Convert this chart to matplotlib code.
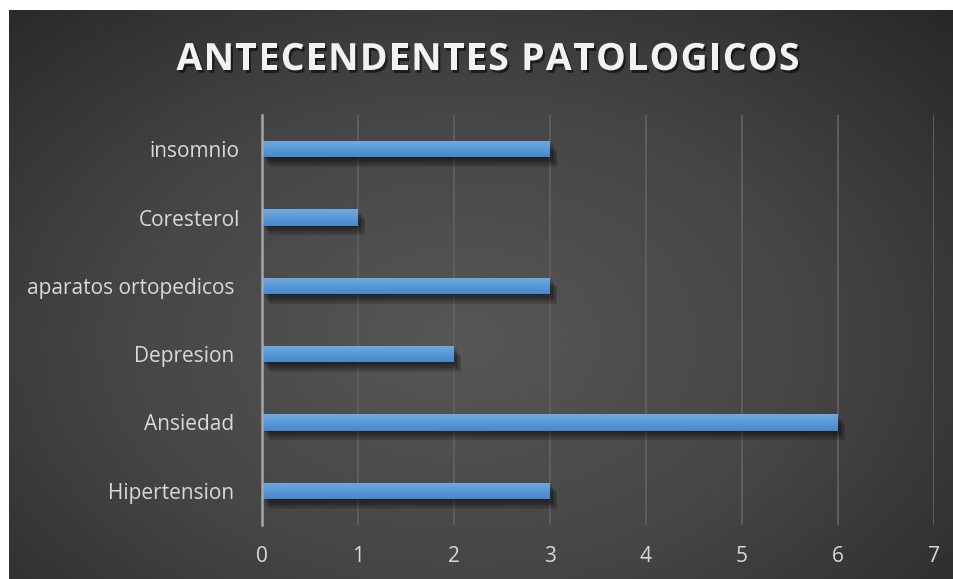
import numpy as np
import matplotlib
matplotlib.use("Agg")
import matplotlib.pyplot as plt
import matplotlib.patheffects as pe
from matplotlib.colors import LinearSegmentedColormap
from matplotlib.font_manager import FontProperties

categories = ["Hipertension ", "Ansiedad ", "Depresion ", "aparatos ortopedicos ", "Coresterol", "insomnio"]
values = [3, 6, 2, 3, 1, 3]
xticks = [0, 1, 2, 3, 4, 5, 6, 7]
title = "ANTECENDENTES PATOLOGICOS"

W, H = 954, 579
fig = plt.figure(figsize=(W / 100, H / 100), dpi=100)
fig.patch.set_facecolor("white")

# background with radial gradient
bg = fig.add_axes([9 / W, 0, 1 - 9 / W, 1 - 10 / H])
bg.set_axis_off()
yy, xx = np.mgrid[0:1:300j, 0:1:500j]
r = np.sqrt(((xx - 0.48) / 0.75) ** 2 + ((yy - 0.42) / 0.85) ** 2)
r = np.clip(r, 0, 1)
cmap_bg = LinearSegmentedColormap.from_list("bg", ["#575757", "#454545", "#262626"])
bg.imshow(r, cmap=cmap_bg, aspect="auto", extent=[0, 1, 0, 1], origin="lower", vmin=0, vmax=1)
bg.set_xlim(0, 1)
bg.set_ylim(0, 1)

ax = fig.add_axes([262 / W, (H - 525) / H, (934 - 262) / W, (525 - 115) / H])
ax.patch.set_alpha(0)
y = np.arange(len(categories))
shadow = [pe.SimplePatchShadow(offset=(1 + k, -1 - 1.5 * k), shadow_rgbFace="black", alpha=0.14)
          for k in range(5)]
bars = ax.barh(y, values, height=0.24, color="#5b9bd5", zorder=3,
               path_effects=shadow + [pe.Normal()])
grad = np.linspace(0, 1, 64).reshape(-1, 1)
cmap_bar = LinearSegmentedColormap.from_list("bar", ["#4787cc", "#5a9ad8", "#70aae0"])
for b in bars:
    x0, y0 = b.get_x(), b.get_y()
    w, h = b.get_width(), b.get_height()
    im = ax.imshow(grad, cmap=cmap_bar, aspect="auto", extent=[x0, x0 + w, y0, y0 + h],
                   origin="lower", zorder=4)
    im.set_clip_path(b)

ax.set_xlim(0, 7)
ax.set_ylim(-0.5, len(categories) - 0.5)
ax.set_xticks(xticks)
ax.set_yticks(y)
ax.set_yticklabels(categories)
ax.grid(axis="x", color="#606060", linewidth=1.3, zorder=0)
ax.set_axisbelow(True)
for s in ["top", "right", "bottom"]:
    ax.spines[s].set_visible(False)
ax.spines["left"].set_color("#a6a6a6")
ax.spines["left"].set_linewidth(1.8)
ax.spines["left"].set_zorder(5)
ax.tick_params(axis="both", length=0, labelcolor="#d9d9d9", labelsize=15)
ax.tick_params(axis="x", pad=15)
ax.tick_params(axis="y", pad=16)
for lbl in ax.get_xticklabels() + ax.get_yticklabels():
    lbl.set_family(["Open Sans", "DejaVu Sans"])

# title with letter spacing
prop = FontProperties(family=["Open Sans", "DejaVu Sans"], weight="bold", size=27)
renderer = fig.canvas.get_renderer()
widths = [renderer.get_text_width_height_descent(c, prop, ismath=False)[0] for c in title]
target = 623.0
spacing = (target - sum(widths)) / (len(title) - 1)
xpos = 488 - target / 2
for c, wch in zip(title, widths):
    if c != " ":
        fig.text(xpos / W, 1 - 60 / H, c, ha="left", va="center", color="#f2f2f2",
                 fontproperties=prop,
                 path_effects=[pe.withSimplePatchShadow(offset=(1.5, -2), shadow_rgbFace="black", alpha=0.55)])
    xpos += wch + spacing

fig.savefig("out.png", dpi=100, facecolor=fig.get_facecolor())
